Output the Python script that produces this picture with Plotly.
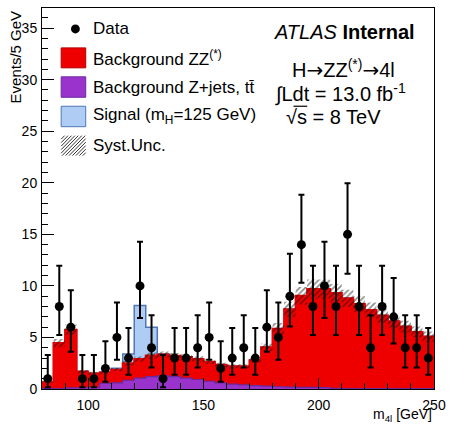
import numpy as np
import plotly.graph_objects as go

# ---------------- data ----------------
edges = list(range(80, 255, 5))          # bin edges, 5 GeV bins
centers = [e + 2.5 for e in edges[:-1]]

data = [1, 8, 6, 1, 1, 2, 5, 3, 10, 4, 1, 3, 3, 4, 5, 2, 3, 4, 3, 6,
        5, 9, 14, 8, 10, 8, 15, 8, 4, 8, 7, 4, 4, 3]
err_hi = [2.30, 3.95, 3.58, 2.30, 2.30, 2.64, 3.38, 2.92, 4.27, 3.16, 2.30, 2.92,
          2.92, 3.16, 3.38, 2.64, 2.92, 3.16, 2.92, 3.58, 3.38, 4.11, 4.83, 3.95,
          4.27, 3.95, 4.96, 3.95, 3.16, 3.95, 3.77, 3.16, 3.16, 2.92]
err_lo = [0.83, 2.77, 2.38, 0.83, 0.83, 1.29, 2.16, 1.63, 3.11, 1.91, 0.83, 1.63,
          1.63, 1.91, 2.16, 1.29, 1.63, 1.91, 1.63, 2.38, 2.16, 2.94, 3.70, 2.77,
          3.11, 2.77, 3.83, 2.77, 1.91, 2.77, 2.58, 1.91, 1.91, 1.63]

bkg_zjets = [0.03, 0.03, 0.10, 0.12, 0.15, 0.55, 0.60, 0.85, 1.05, 1.20, 1.28, 1.20,
             1.06, 0.92, 0.75, 0.60, 0.47, 0.40, 0.33, 0.27, 0.22, 0.19, 0.16, 0.15,
             0.14, 0.06, 0.05, 0.05, 0.04, 0.04, 0.03, 0.03, 0.03, 0.03]
bkg_zz = [0.62, 4.42, 5.65, 1.58, 1.35, 1.05, 1.27, 1.65, 1.85, 2.05, 2.07, 2.02,
          2.04, 2.00, 1.90, 1.75, 1.73, 1.80, 2.47, 3.78, 5.63, 7.54, 8.89, 9.55,
          9.56, 9.25, 8.75, 8.20, 7.63, 7.08, 6.54, 6.03, 5.51, 5.06]
signal = [0, 0, 0, 0, 0.02, 0.05, 0.15, 0.90, 5.20, 2.75, 0.05, 0, 0, 0, 0, 0, 0,
          0, 0, 0, 0, 0, 0, 0, 0, 0, 0, 0, 0, 0, 0, 0, 0, 0]
syst = [0.07, 0.40, 0.50, 0.15, 0.13, 0.14, 0.16, 0.22, 0.25, 0.28, 0.29, 0.28,
        0.27, 0.25, 0.23, 0.20, 0.19, 0.19, 0.25, 0.37, 0.55, 0.72, 0.85, 0.92,
        0.92, 0.88, 0.83, 0.78, 0.72, 0.67, 0.62, 0.57, 0.52, 0.48]

# ---------------- styling ----------------
RED = "#EE0000"
PURPLE = "#9933CC"
PURPLE_LINE = "#6A2A9E"
SIG = "#AECCF4"
SIG_LINE = "#4F78B5"
FONT = "Liberation Sans, Arial, sans-serif"

zj = np.array(bkg_zjets)
zz = np.array(bkg_zz)
sg = np.array(signal)
sy = np.array(syst)
tot_bkg = zj + zz
tot_all = tot_bkg + sg


def step(v):
    v = list(v)
    return v + [v[-1]]


fig = go.Figure()
fig.add_trace(go.Scatter(x=edges, y=step(tot_all), mode="lines",
                         line=dict(shape="hv", color=SIG_LINE, width=1.5),
                         fill="tozeroy", fillcolor=SIG, hoverinfo="skip"))
fig.add_trace(go.Scatter(x=edges, y=step(tot_bkg), mode="lines",
                         line=dict(shape="hv", color=RED, width=2),
                         fill="tozeroy", fillcolor=RED, hoverinfo="skip"))
fig.add_trace(go.Scatter(x=edges, y=step(zj), mode="lines",
                         line=dict(shape="hv", color=PURPLE_LINE, width=1.2),
                         fill="tozeroy", fillcolor=PURPLE, hoverinfo="skip"))
fig.add_trace(go.Scatter(x=edges, y=step(tot_bkg - sy), mode="lines",
                         line=dict(shape="hv", width=0), hoverinfo="skip"))
fig.add_trace(go.Scatter(x=edges, y=step(tot_bkg + sy), mode="lines",
                         line=dict(shape="hv", width=0), fill="tonexty",
                         fillcolor="rgba(0,0,0,0)",
                         fillpattern=dict(shape="/", fgcolor="#111111",
                                          bgcolor="rgba(0,0,0,0)",
                                          size=4, solidity=0.4),
                         hoverinfo="skip"))
fig.add_trace(go.Scatter(x=centers, y=data, mode="markers",
                         marker=dict(color="black", size=9),
                         error_y=dict(type="data", symmetric=False, array=err_hi,
                                      arrayminus=err_lo, color="black",
                                      thickness=2, width=3)))

# ---------------- layout geometry helpers (pixels -> paper) ----------------
W, H = 453, 424
ML, MR, MT, MB = 42, 12, 7, 35
PW, PH = W - ML - MR, H - MT - MB


def px(x):
    return (x - ML) / PW


def py(y):
    return (H - MB - y) / PH


shapes = []
annotations = []

# legend: data marker
shapes.append(dict(type="circle", xref="paper", yref="paper",
                   x0=px(71.5), x1=px(80.5), y0=py(32.5), y1=py(23.5),
                   fillcolor="black", line=dict(color="black", width=0)))
# legend boxes
boxes = [(47, 67, RED, "#B00000"), (76, 96.5, PURPLE, PURPLE_LINE),
         (105.5, 126, SIG, SIG_LINE)]
for y0, y1, fc, lc in boxes:
    shapes.append(dict(type="rect", xref="paper", yref="paper",
                       x0=px(61.5), x1=px(86.5), y0=py(y1), y1=py(y0),
                       fillcolor=fc, line=dict(color=lc, width=1)))
# hatched legend box
hx0, hx1, hy0, hy1 = 61.5, 86.5, 135, 155
c = hx0 + hy0
while c < hx1 + hy1:
    xa = max(hx0, c - hy1)
    xb = min(hx1, c - hy0)
    if xb > xa:
        shapes.append(dict(type="line", xref="paper", yref="paper",
                           x0=px(xa), y0=py(c - xa), x1=px(xb), y1=py(c - xb),
                           line=dict(color="#333333", width=1)))
    c += 3.5

# overline of the square root
shapes.append(dict(type="line", xref="paper", yref="paper",
                   x0=px(298), x1=px(312), y0=py(105.5), y1=py(105.5),
                   line=dict(color="black", width=1.2)))

leg_texts = [(28, "Data"), (57, "Background ZZ<sup>(*)</sup>"),
             (86.5, "Background Z+jets, tt\u0304"),
             (115.5, "Signal (m<sub>H</sub>=125 GeV)"), (145, "Syst.Unc.")]
for yy, t in leg_texts:
    annotations.append(dict(text=t, xref="paper", yref="paper", x=px(92),
                            y=py(yy), xanchor="left", yanchor="middle",
                            showarrow=False, font=dict(family=FONT, size=17, color="black")))

ARROW = "<span style='font-family:DejaVu Sans'>\u2192</span>"
# ATLAS labels
annotations.append(dict(text="<i>ATLAS</i> <b>Internal</b>", xref="paper", yref="paper",
                        x=px(424), y=py(31.5), xanchor="right", yanchor="middle",
                        showarrow=False, font=dict(family=FONT, size=20, color="black")))
annotations.append(dict(text="H" + ARROW + "ZZ<sup>(*)</sup>" + ARROW + "4l",
                        xref="paper", yref="paper",
                        x=px(349), y=py(68), xanchor="center", yanchor="middle",
                        showarrow=False, font=dict(family=FONT, size=20, color="black")))
annotations.append(dict(text="\u222bLdt = 13.0 fb<sup>-1</sup>", xref="paper", yref="paper",
                        x=px(346), y=py(92), xanchor="center", yanchor="middle",
                        showarrow=False, font=dict(family=FONT, size=20, color="black")))
annotations.append(dict(text="\u221as = 8 TeV", xref="paper", yref="paper",
                        x=px(339), y=py(116.5), xanchor="center", yanchor="middle",
                        showarrow=False, font=dict(family=FONT, size=20, color="black")))

# axis titles
annotations.append(dict(text="Events/5 GeV", xref="paper", yref="paper",
                        x=px(15.5), y=py(7), xanchor="center", yanchor="top",
                        textangle=-90, showarrow=False,
                        font=dict(family=FONT, size=15, color="black")))
annotations.append(dict(text="m<sub>4l</sub> [GeV]", xref="paper", yref="paper",
                        x=px(441), y=py(415.5), xanchor="right", yanchor="middle",
                        showarrow=False, font=dict(family=FONT, size=14, color="black")))

fig.update_layout(
    width=W, height=H,
    margin=dict(l=ML, r=MR, t=MT, b=MB),
    paper_bgcolor="white", plot_bgcolor="white",
    showlegend=False,
    font=dict(family=FONT, size=13, color="black"),
    shapes=shapes, annotations=annotations,
    xaxis=dict(range=[80, 250], tick0=0, dtick=50, ticks="inside", ticklen=11,
               tickcolor="black", tickwidth=1, showline=True, linecolor="black",
               linewidth=1, mirror=True, showgrid=False, zeroline=False,
               tickfont=dict(family=FONT, size=14, color="black"),
               ticklabelstandoff=3,
               minor=dict(dtick=10, ticks="inside", ticklen=6, tickcolor="black",
                          showgrid=False)),
    yaxis=dict(range=[0, 36.95], tick0=0, dtick=5, ticks="inside", ticklen=12,
               tickcolor="black", tickwidth=1, showline=True, linecolor="black",
               linewidth=1, mirror=True, showgrid=False, zeroline=False,
               tickfont=dict(family=FONT, size=14, color="black"),
               ticklabelstandoff=1,
               minor=dict(dtick=1, ticks="inside", ticklen=6, tickcolor="black",
                          showgrid=False)),
)

fig.write_html("out.html")
